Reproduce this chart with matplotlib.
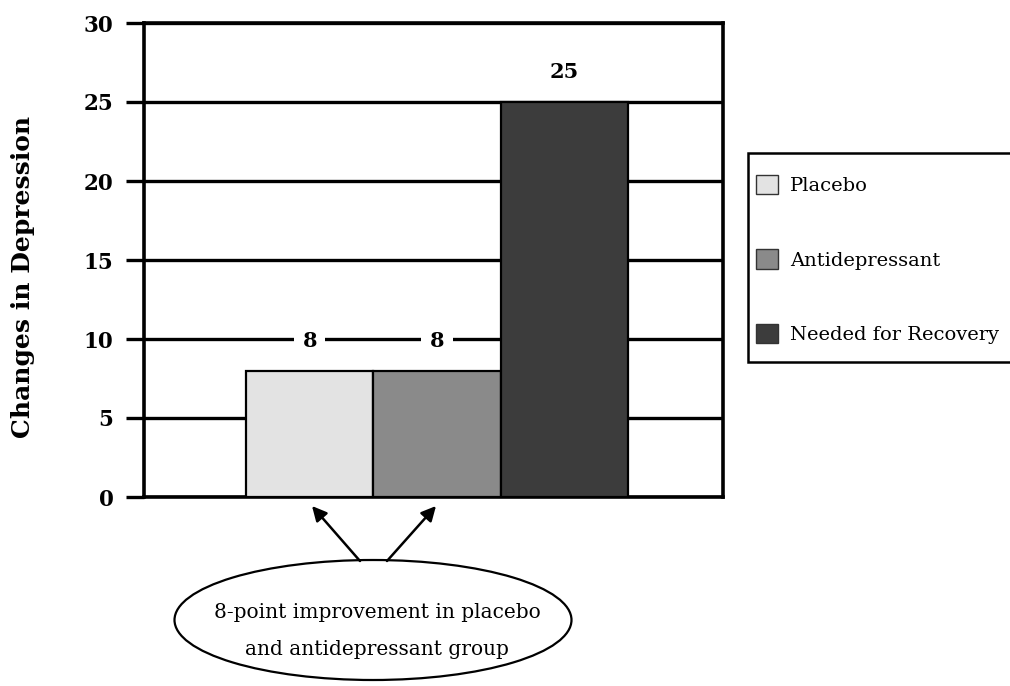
import matplotlib
matplotlib.use("Agg")
import matplotlib.pyplot as plt
from matplotlib.patches import Ellipse, Patch, Rectangle

groups = ["Placebo", "Antidepressant", "Needed for Recovery"]
changes = [8, 8, 25]
colors = ["#e3e3e3", "#8a8a8a", "#3c3c3c"]
yticks = [0, 5, 10, 15, 20, 25, 30]
note = "8-point improvement in placebo\nand antidepressant group"

plt.rcParams["font.family"] = ["DejaVu Serif"]

fig = plt.figure(figsize=(10.1, 6.86), dpi=100)
W, H = 1010, 686

# main axes placed in pixel terms
left, right, top, bottom = 144, 723, 23, 497
ax = fig.add_axes([left / W, 1 - bottom / H, (right - left) / W, (bottom - top) / H])

xs = [1, 2, 3]
ax.bar(xs, changes, width=1.0, color=colors, edgecolor="black", linewidth=1.6, zorder=3)
for x, v in zip(xs, changes):
    ax.text(x, v + 1.9, str(v), ha="center", va="center", fontsize=15, fontweight="bold",
            bbox=dict(facecolor="white", edgecolor="none", pad=6), zorder=4)

ax.set_xlim(-0.303, 4.248)
ax.set_ylim(0, 30)
ax.set_yticks(yticks)
ax.set_yticklabels([str(t) for t in yticks], fontsize=15.5, fontweight="bold")
ax.set_xticks([])
ax.tick_params(axis="y", length=13, width=2.4, pad=9, color="black")
ax.yaxis.grid(True, color="black", linewidth=2.4, zorder=1)
ax.set_axisbelow(True)
for s in ax.spines.values():
    s.set_linewidth(2.6)

fig.text(23 / W, 1 - 277 / H, "Changes in Depression", rotation=90, ha="center", va="center",
         fontsize=18, fontweight="bold")

# overlay in pixel coordinates for the legend frame and the callout
ov = fig.add_axes([0, 0, 1, 1], zorder=5)
ov.set_xlim(0, W)
ov.set_ylim(H, 0)
ov.axis("off")
ov.patch.set_alpha(0)

ov.add_patch(Rectangle((748, 153), 280, 209, facecolor="white", edgecolor="black",
                       linewidth=1.8, clip_on=False))
handles = [Patch(facecolor=c, edgecolor="#333333", linewidth=1.0) for c in colors]
leg = ov.legend(handles, groups, loc="upper left", bbox_to_anchor=(756 / W, 1 - 175 / H),
                bbox_transform=fig.transFigure, fontsize=14, frameon=False,
                labelspacing=2.78, handlelength=1.15, handleheight=1.15, handletextpad=0.6,
                borderpad=0, borderaxespad=0)

ov.add_patch(Ellipse((373, 620), 397, 120, facecolor="white", edgecolor="black", linewidth=1.6))
ov.text(377, 631, note, ha="center", va="center", fontsize=14.5, linespacing=2.2)
for tail, tip in [((360, 561), (312, 506)), ((387, 561), (436, 506))]:
    ov.annotate("", xy=tip, xytext=tail,
                arrowprops=dict(arrowstyle="-|>", color="black", lw=1.8, mutation_scale=22,
                                shrinkA=0, shrinkB=0))

fig.savefig("out.png", dpi=100)
